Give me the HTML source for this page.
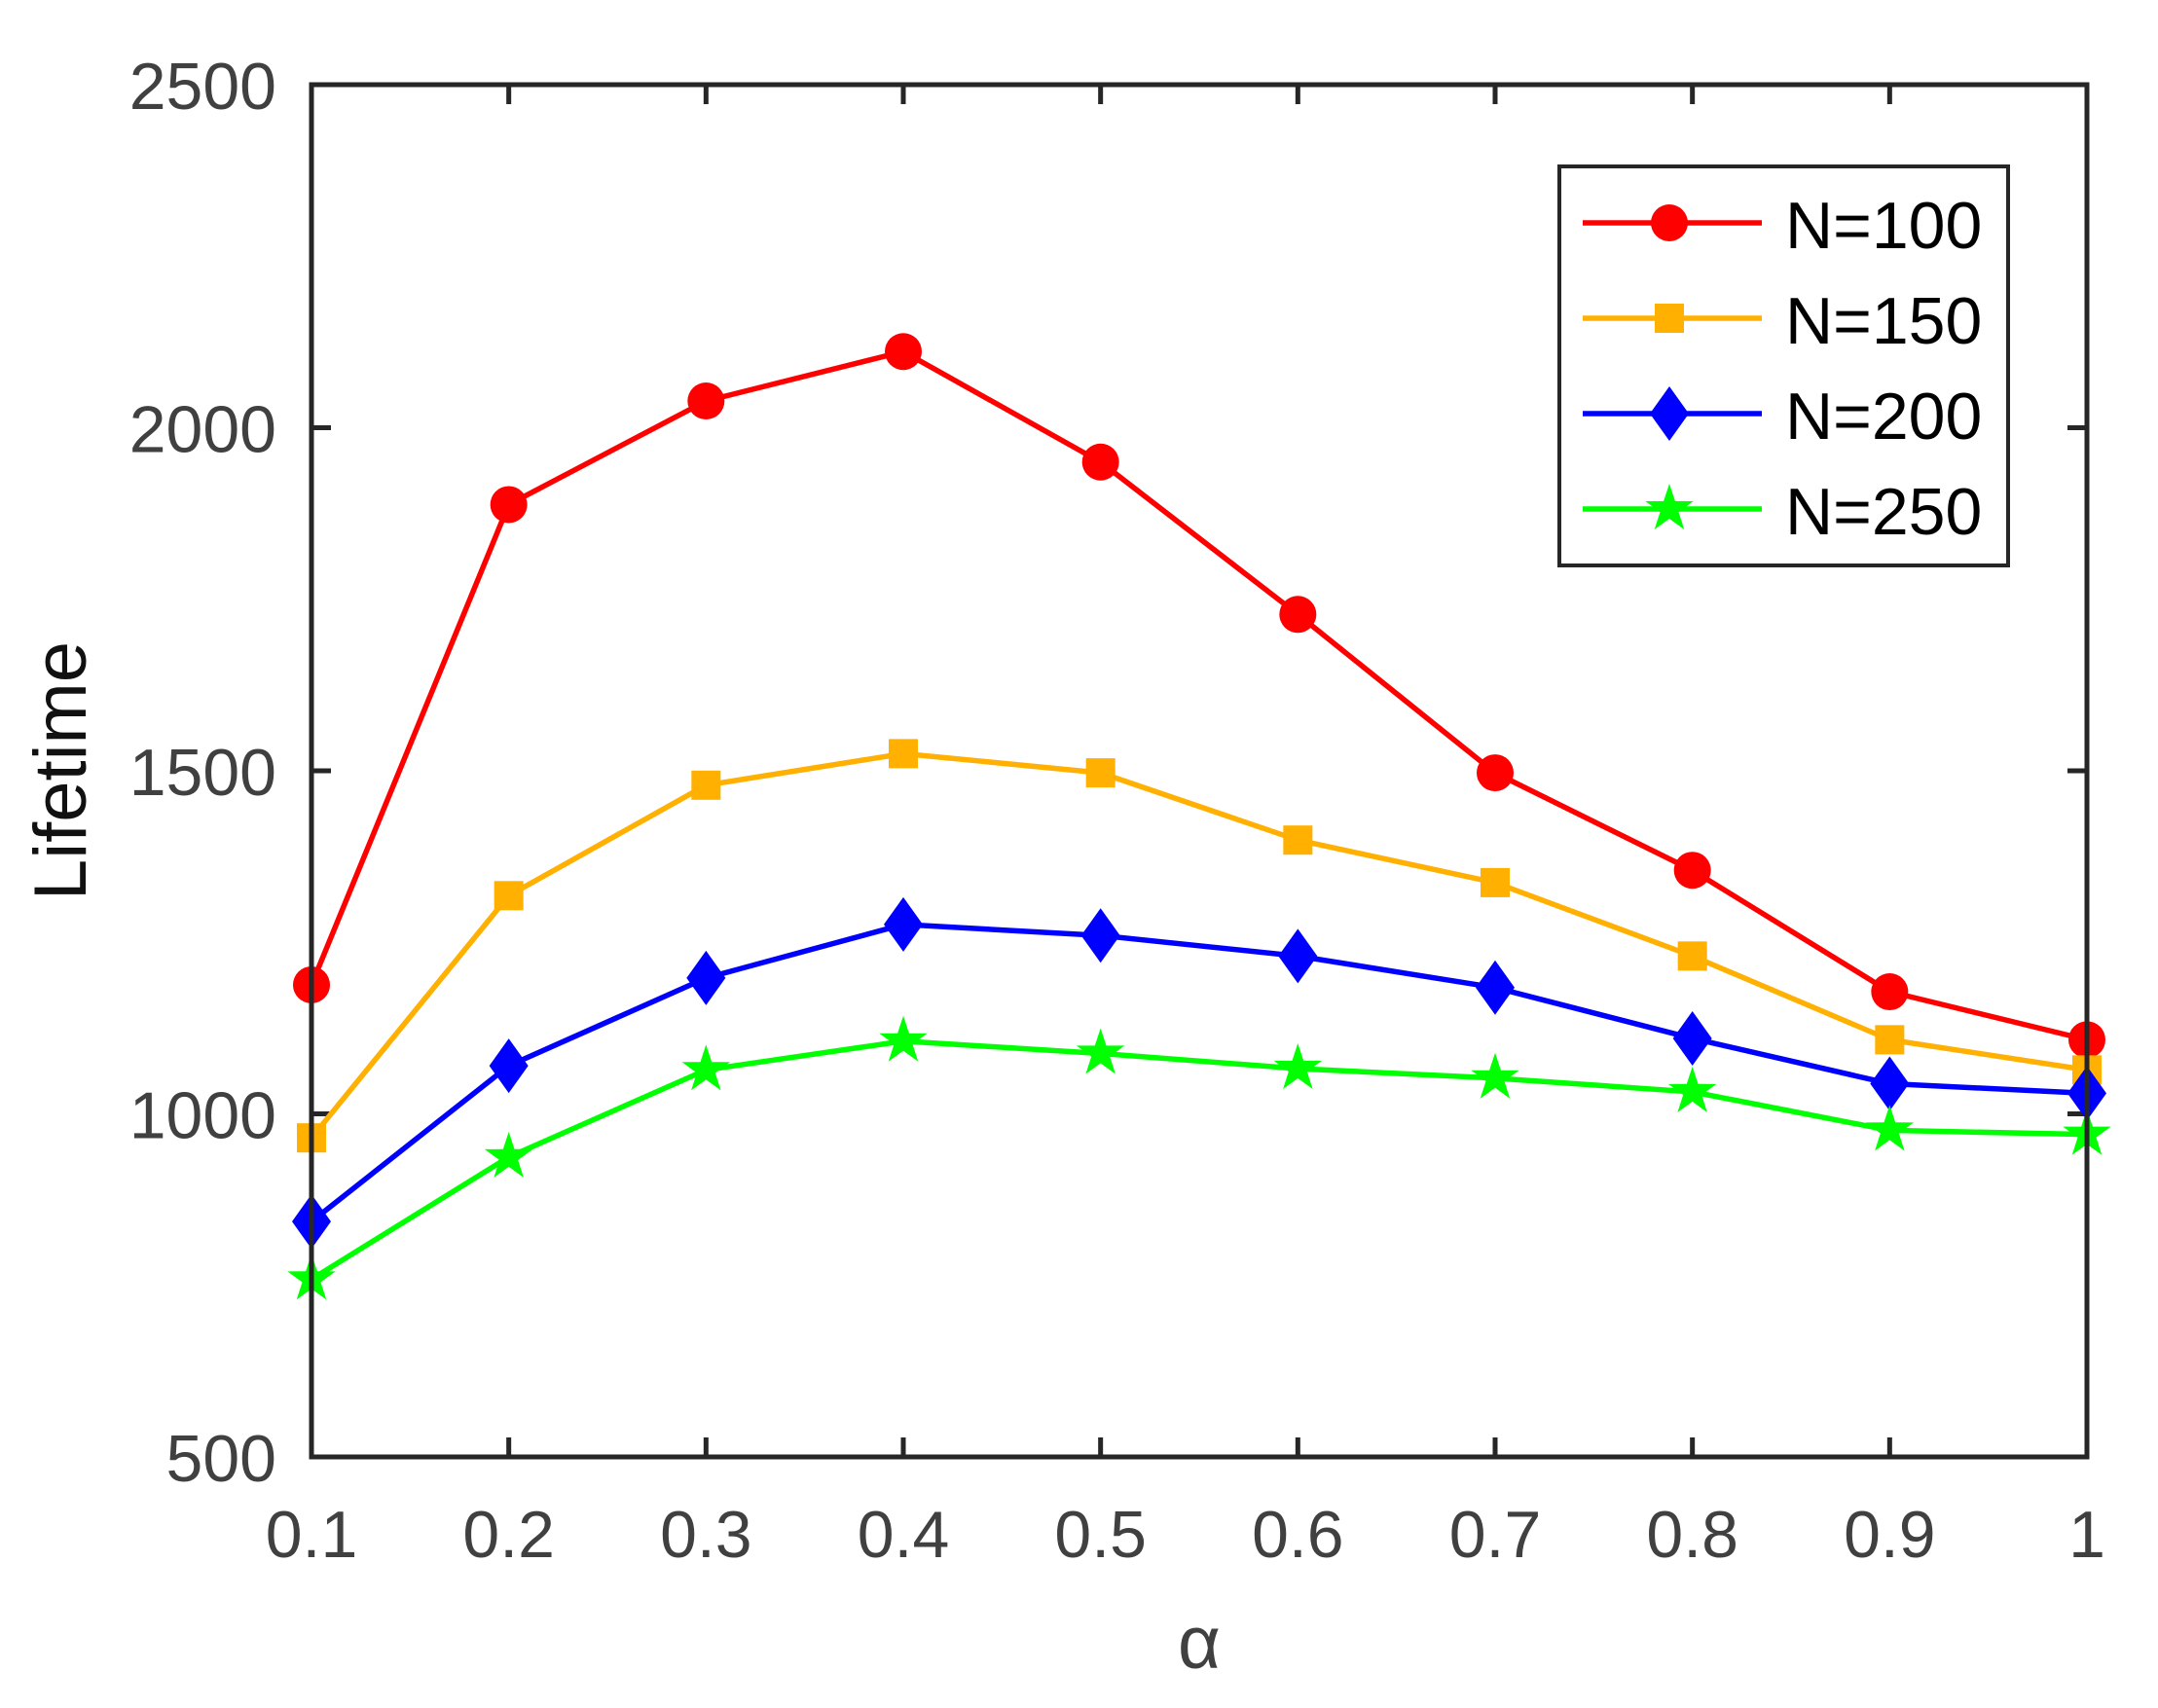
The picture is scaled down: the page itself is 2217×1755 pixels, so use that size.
<!DOCTYPE html>
<html><head><meta charset="utf-8"><style>
html,body{margin:0;padding:0;background:#fff}
svg{display:block}
text{font-family:"Liberation Sans",sans-serif;fill:#404040}
</style></head><body>
<svg id="s" width="2217" height="1755" viewBox="0 0 2217 1755" xmlns="http://www.w3.org/2000/svg">
<rect width="2217" height="1755" fill="#fff"/>
<g id="ticks" stroke="#262626" stroke-width="5"></g>
<g id="plot"></g>
<rect x="320" y="87" width="1824" height="1410" fill="none" stroke="#262626" stroke-width="5"/>
<g id="labels" font-size="68"></g>
<text x="1232" y="1714" font-size="76" text-anchor="middle">α</text>
<text transform="translate(88,792) rotate(-90)" font-size="76" text-anchor="middle" style="fill:#111">Lifetime</text>
<rect x="1602" y="171" width="461" height="410" fill="#fff" stroke="#262626" stroke-width="4"/>
<g id="legend"></g>
</svg>
<script>
var NS="http://www.w3.org/2000/svg";
function el(p,t,a,txt){var e=document.createElementNS(NS,t);for(var k in a)e.setAttribute(k,a[k]);if(txt!==undefined)e.textContent=txt;p.appendChild(e);return e;}
var X0=320,X1=2144,Y0=1497,Y1=87;
function xp(i){return X0+i*(X1-X0)/9;}
function yp(v){return Y0-(v-500)*(Y0-Y1)/2000;}
var ticks=document.getElementById('ticks'),labels=document.getElementById('labels');
var xl=['0.1','0.2','0.3','0.4','0.5','0.6','0.7','0.8','0.9','1'];
for(var i=0;i<10;i++){var x=xp(i);
 el(ticks,'line',{x1:x,y1:Y0,x2:x,y2:Y0-20});el(ticks,'line',{x1:x,y1:Y1,x2:x,y2:Y1+20});
 el(labels,'text',{x:x,y:1600,'text-anchor':'middle'},xl[i]);}
for(var v=500;v<=2500;v+=500){var y=yp(v);
 el(ticks,'line',{x1:X0,y1:y,x2:X0+20,y2:y});el(ticks,'line',{x1:X1,y1:y,x2:X1-20,y2:y});
 el(labels,'text',{x:284,y:y+25,'text-anchor':'end'},String(v));}
var data=[
 {c:'#ff0000',m:'o',d:[1188,1888,2039,2111,1950,1728,1497,1355,1178,1108],n:'N=100'},
 {c:'#ffb000',m:'s',d:[965,1318,1479,1525,1497,1399,1337,1230,1108,1064],n:'N=150'},
 {c:'#0000ff',m:'d',d:[843,1070,1198,1276,1260,1230,1184,1110,1044,1030],n:'N=200'},
 {c:'#00ff00',m:'p',d:[759,937,1064,1106,1088,1066,1052,1032,976,970],n:'N=250'}];
function marker(g,m,x,y,c){
 if(m=='o')el(g,'circle',{cx:x,cy:y,r:19,fill:c});
 else if(m=='s')el(g,'rect',{x:x-15,y:y-15,width:30,height:30,fill:c});
 else if(m=='d')el(g,'polygon',{points:(x)+','+(y-28)+' '+(x+20)+','+y+' '+x+','+(y+28)+' '+(x-20)+','+y,fill:c});
 else{var pts=[];for(var k=0;k<10;k++){var r=k%2?10:26,a=-Math.PI/2+k*Math.PI/5;pts.push((x+r*Math.cos(a)).toFixed(1)+','+(y+r*Math.sin(a)).toFixed(1));}
  el(g,'polygon',{points:pts.join(' '),fill:c});}
}
var plot=document.getElementById('plot'),leg=document.getElementById('legend');
data.forEach(function(s,j){
 var pts=s.d.map(function(v,i){return xp(i)+','+yp(v);}).join(' ');
 el(plot,'polyline',{points:pts,fill:'none',stroke:s.c,'stroke-width':5.5,'stroke-linejoin':'round'});
 s.d.forEach(function(v,i){marker(plot,s.m,xp(i),yp(v),s.c);});
 var ly=229+j*98;
 el(leg,'line',{x1:1626,y1:ly,x2:1810,y2:ly,stroke:s.c,'stroke-width':5.5});
 marker(leg,s.m,1715,ly,s.c);
 var t=el(leg,'text',{x:1834,y:ly+26,'font-size':68},s.n);t.setAttribute('style','fill:#000');
});
</script>
</body></html>
